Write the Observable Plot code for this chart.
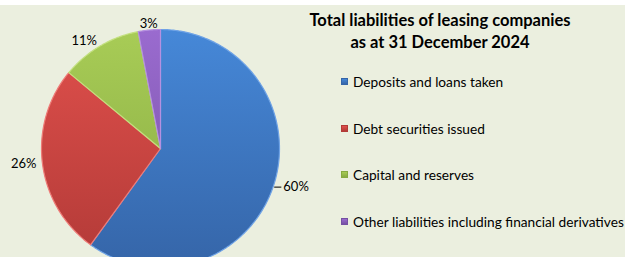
<!DOCTYPE html>
<html><head><meta charset="utf-8">
<script src="https://cdn.jsdelivr.net/npm/d3@7"></script>
<script src="https://cdn.jsdelivr.net/npm/@observablehq/plot@0.6"></script>
<style>
body{margin:0;background:#fff;font-family:Lato,"Open Sans",sans-serif;}
#chart{position:relative;width:625px;height:252px;margin-top:5px;background:#EBEFDF;overflow:hidden;}
#pie{position:absolute;left:0;top:0;}
#title{position:absolute;left:290px;width:300px;top:4px;text-align:center;font-weight:bold;font-size:16.5px;line-height:22px;color:#000;}
#legend{position:absolute;left:341px;top:53px;font-size:13.7px;color:#000;}
.item{height:46.7px;display:flex;align-items:center;white-space:nowrap;}
.sw{width:7px;height:7px;margin-right:5px;box-sizing:border-box;}
</style></head>
<body>
<div id="chart"><div id="pie"></div><div id="title">Total liabilities of leasing companies<br>as at 31 December 2024</div><div id="legend"></div></div>
<script>
const categories = ["Deposits and loans taken","Debt securities issued","Capital and reserves","Other liabilities including financial derivatives"];
const shares = [60, 26, 11, 3];
const labels = ["60%", "26%", "11%", "3%"];
const topColors = ["#4688D8", "#E0504C", "#A8CC56", "#9A6BCF"];
const bottomColors = ["#3565A8", "#B23A37", "#87AA42", "#7550A3"];
const edgeColors = ["#6FA3E6", "#EE7B77", "#C3E07F", "#B590E0"];

const W = 625, H = 252, cx = 160, cy = 143, R = 119;
const arcs = d3.pie().sort(null)(shares);
const polys = [];
arcs.forEach((a, i) => {
  polys.push({k: i, x: 0, y: 0});
  const n = Math.max(2, Math.ceil((a.endAngle - a.startAngle) / 0.01));
  for (let j = 0; j <= n; j++) {
    const t = a.startAngle + (a.endAngle - a.startAngle) * j / n;
    polys.push({k: i, x: Math.sin(t), y: Math.cos(t)});
  }
  polys.push({k: i, x: 0, y: 0});
});
const lab = arcs.map((a, i) => {
  const m = (a.startAngle + a.endAngle) / 2;
  const s = Math.sin(m);
  return {text: labels[i], x: 1.05 * s, y: 1.05 * Math.cos(m),
    side: Math.abs(s) < 0.2 ? "middle" : s > 0 ? "start" : "end"};
});
const textOpts = (side, dx = 0) => ({filter: d => d.side === side, x: "x", y: "y", text: "text",
  textAnchor: side, fontSize: 13, fill: "#000", dx});

const svg = Plot.plot({
  width: W, height: H, margin: 0,
  style: {background: "transparent", fontFamily: "Lato, 'Open Sans', sans-serif", overflow: "hidden"},
  x: {domain: [-cx / R, (W - cx) / R], range: [0, W], axis: null},
  y: {domain: [(cy - H) / R, cy / R], range: [H, 0], axis: null},
  color: {type: "identity"},
  marks: [
    Plot.line(polys, {x: "x", y: "y", z: "k", curve: "linear",
      fill: d => `url(#g${d.k})`, stroke: d => edgeColors[d.k], strokeWidth: 1.2, strokeLinejoin: "round"}),
    Plot.link(lab, {filter: d => d.side === "start", x1: d => d.x - 0.06, x2: "x", y1: "y", y2: "y",
      stroke: "#000", strokeWidth: 1, dx: 2}),
    Plot.text(lab, textOpts("start", 4)),
    Plot.text(lab, textOpts("end")),
    Plot.text(lab, textOpts("middle"))
  ]
});
const defs = d3.select(svg).insert("defs", ":first-child");
topColors.forEach((c, i) => {
  const g = defs.append("linearGradient").attr("id", `g${i}`)
    .attr("gradientUnits", "userSpaceOnUse").attr("x1", 0).attr("y1", cy - R).attr("x2", 0).attr("y2", cy + R);
  g.append("stop").attr("offset", 0).attr("stop-color", c);
  g.append("stop").attr("offset", 1).attr("stop-color", bottomColors[i]);
});
document.getElementById("pie").appendChild(svg);

const legend = d3.select("#legend");
categories.forEach((c, i) => {
  const it = legend.append("div").attr("class", "item");
  it.append("div").attr("class", "sw")
    .style("background", `linear-gradient(${topColors[i]}, ${bottomColors[i]})`)
    .style("border", `1px solid ${bottomColors[i]}`);
  it.append("span").text(c);
});
</script>
</body></html>
